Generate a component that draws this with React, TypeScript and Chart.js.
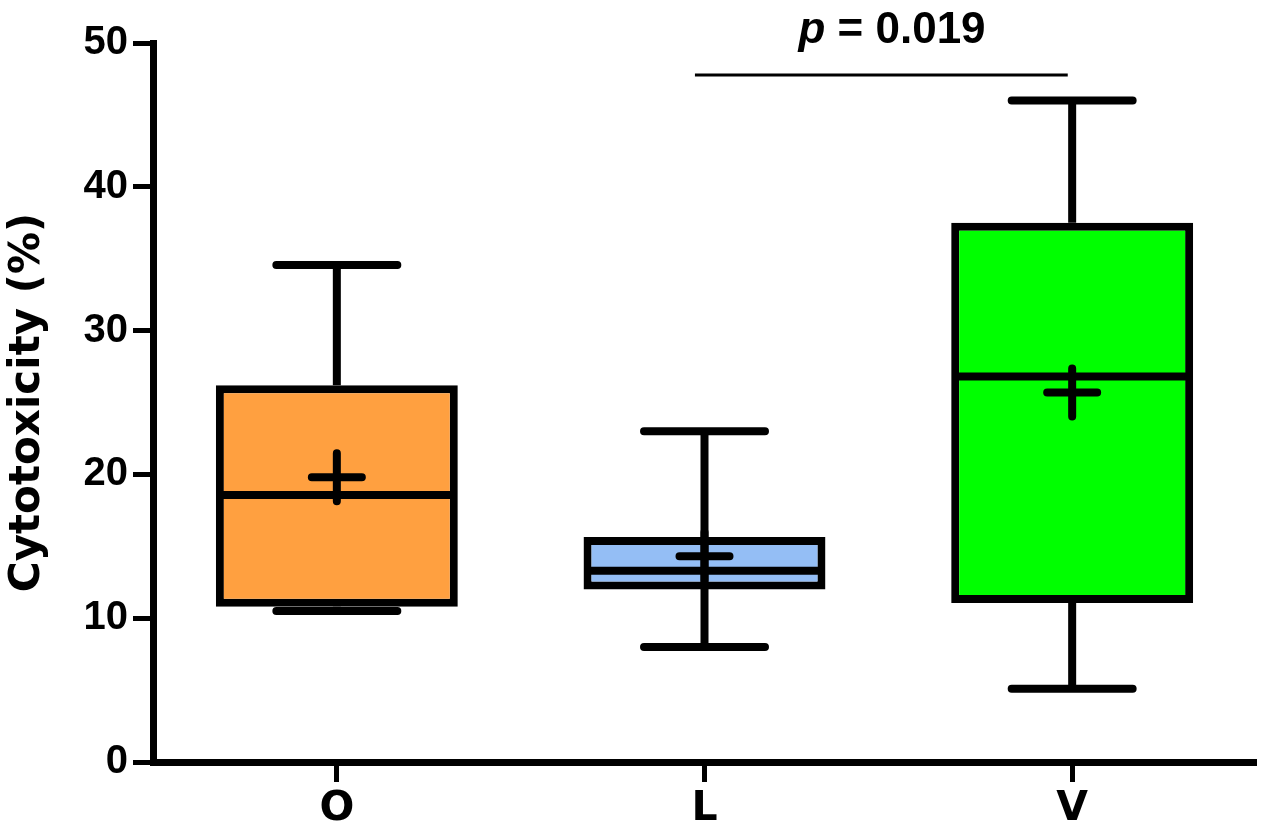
import React, { useEffect, useRef } from "react";
import { Chart, registerables } from "chart.js";

Chart.register(...registerables);

// ---- Data ----
const categories = ["O", "L", "V"];
const whiskerMin = [10.5, 8.0, 5.1];
const q1 = [10.8, 12.0, 11.05];
const median = [18.57, 13.3, 26.8];
const q3 = [26.2, 15.65, 37.5];
const whiskerMax = [34.56, 23.0, 46.0];
const means = [19.8, 14.3, 25.7];
const boxColors = ["#FFA040", "#94BEF5", "#00FF00"];
const whiskerThroughBox = [false, true, false];
const yTickValues = [0, 10, 20, 30, 40, 50];
const yAxisTitle = "Cytotoxicity (%)";
const comparisonFrom = 0.974;
const comparisonTo = 1.988;
const comparisonLevel = 47.77;
const pLabelX = 1.51;
const pSymbol = "p";
const pValueText = " = 0.019";

const boxPlotPlugin = {
  id: "boxPlotExtras",
  afterDatasetsDraw(chart: any) {
    const ctx = chart.ctx as CanvasRenderingContext2D;
    const xs = chart.scales.x;
    const ys = chart.scales.y;
    const meta = chart.getDatasetMeta(0);
    ctx.save();
    ctx.strokeStyle = "#000";
    ctx.fillStyle = "#000";
    categories.forEach((_, i) => {
      const bar = meta.data[i];
      const cx = xs.getPixelForValue(i);
      const bw = bar ? bar.width : 240;
      const left = cx - bw / 2;
      const right = cx + bw / 2;
      const capHalf = bw * 0.25;
      const yMin = ys.getPixelForValue(whiskerMin[i]);
      const yQ1 = ys.getPixelForValue(q1[i]);
      const yMed = ys.getPixelForValue(median[i]);
      const yQ3 = ys.getPixelForValue(q3[i]);
      const yMax = ys.getPixelForValue(whiskerMax[i]);
      const yMean = ys.getPixelForValue(means[i]);

      // whiskers
      ctx.lineWidth = 8;
      ctx.lineCap = "butt";
      ctx.beginPath();
      if (whiskerThroughBox[i]) {
        ctx.moveTo(cx, yMax);
        ctx.lineTo(cx, yMin);
      } else {
        ctx.moveTo(cx, yMax);
        ctx.lineTo(cx, yQ3);
        ctx.moveTo(cx, yQ1);
        ctx.lineTo(cx, yMin);
      }
      ctx.stroke();
      ctx.lineCap = "round";
      ctx.beginPath();
      ctx.moveTo(cx - capHalf, yMax);
      ctx.lineTo(cx + capHalf, yMax);
      ctx.moveTo(cx - capHalf, yMin);
      ctx.lineTo(cx + capHalf, yMin);
      ctx.stroke();

      // median
      ctx.lineCap = "butt";
      ctx.lineWidth = 8;
      ctx.beginPath();
      ctx.moveTo(left + 4, yMed);
      ctx.lineTo(right - 4, yMed);
      ctx.stroke();

      // mean "+"
      ctx.lineCap = "round";
      ctx.lineWidth = 8;
      ctx.beginPath();
      ctx.moveTo(cx - 25, yMean);
      ctx.lineTo(cx + 25, yMean);
      ctx.moveTo(cx, yMean - 24);
      ctx.lineTo(cx, yMean + 24);
      ctx.stroke();
    });

    // significance bar
    const lx1 = xs.getPixelForValue(comparisonFrom);
    const lx2 = xs.getPixelForValue(comparisonTo);
    const ly = ys.getPixelForValue(comparisonLevel);
    ctx.lineCap = "butt";
    ctx.lineWidth = 3;
    ctx.beginPath();
    ctx.moveTo(lx1, ly);
    ctx.lineTo(lx2, ly);
    ctx.stroke();

    // p label
    const tx = xs.getPixelForValue(pLabelX);
    const ty = chart.chartArea.top;
    ctx.textBaseline = "alphabetic";
    ctx.textAlign = "left";
    ctx.font = "italic bold 44px 'Liberation Sans', Arial, sans-serif";
    const w1 = ctx.measureText(pSymbol).width;
    ctx.font = "bold 44px 'Liberation Sans', Arial, sans-serif";
    const w2 = ctx.measureText(pValueText).width;
    const start = tx - (w1 + w2) / 2;
    ctx.font = "italic bold 44px 'Liberation Sans', Arial, sans-serif";
    ctx.fillText(pSymbol, start, ty);
    ctx.font = "bold 44px 'Liberation Sans', Arial, sans-serif";
    ctx.fillText(pValueText, start + w1, ty);
    ctx.restore();
  },
};

export default function App() {
  const canvasRef = useRef<HTMLCanvasElement | null>(null);

  useEffect(() => {
    if (!canvasRef.current) return;
    const chart = new Chart(canvasRef.current, {
      type: "bar",
      data: {
        labels: categories,
        datasets: [
          {
            data: categories.map((_, i) => [q1[i], q3[i]]) as any,
            backgroundColor: boxColors,
            borderColor: "#000",
            borderWidth: 8,
            borderSkipped: false,
            barPercentage: 0.658,
            categoryPercentage: 1,
          },
        ],
      },
      options: {
        animation: false,
        responsive: true,
        maintainAspectRatio: false,
        layout: { padding: { left: 0, top: 43, right: 11, bottom: 0 } },
        plugins: {
          legend: { display: false },
          tooltip: { enabled: false },
        },
        scales: {
          x: {
            type: "category",
            offset: true,
            afterFit: (s: any) => {
              s.height = 73;
            },
            grid: {
              offset: false,
              drawOnChartArea: false,
              drawTicks: true,
              tickLength: 20,
              tickWidth: 5,
              tickColor: "#000",
            },
            border: { display: true, color: "#000", width: 7 },
            ticks: {
              color: "#000",
              padding: 3,
              font: { family: "'DejaVu Sans', sans-serif", weight: "bold", size: 41 },
            },
          },
          y: {
            min: 0,
            max: 50,
            afterFit: (s: any) => {
              s.width = 153;
            },
            afterBuildTicks: (s: any) => {
              s.ticks = yTickValues.map((v) => ({ value: v }));
            },
            grid: {
              drawOnChartArea: false,
              drawTicks: true,
              tickLength: 20,
              tickWidth: 5,
              tickColor: "#000",
            },
            border: { display: true, color: "#000", width: 7 },
            ticks: {
              color: "#000",
              padding: 5,
              font: { family: "'Liberation Sans', Arial, sans-serif", weight: "bold", size: 40 },
            },
            title: {
              display: true,
              text: yAxisTitle,
              color: "#000",
              padding: { top: 3, bottom: 0 },
              font: { family: "'DejaVu Sans', sans-serif", weight: "bold", size: 42 },
            },
          },
        },
      },
      plugins: [boxPlotPlugin],
    });
    return () => chart.destroy();
  }, []);

  return (
    <div
      style={{
        position: "absolute",
        left: 0,
        top: 0,
        width: 1267,
        height: 835,
        background: "#fff",
      }}
    >
      <canvas ref={canvasRef} />
    </div>
  );
}
